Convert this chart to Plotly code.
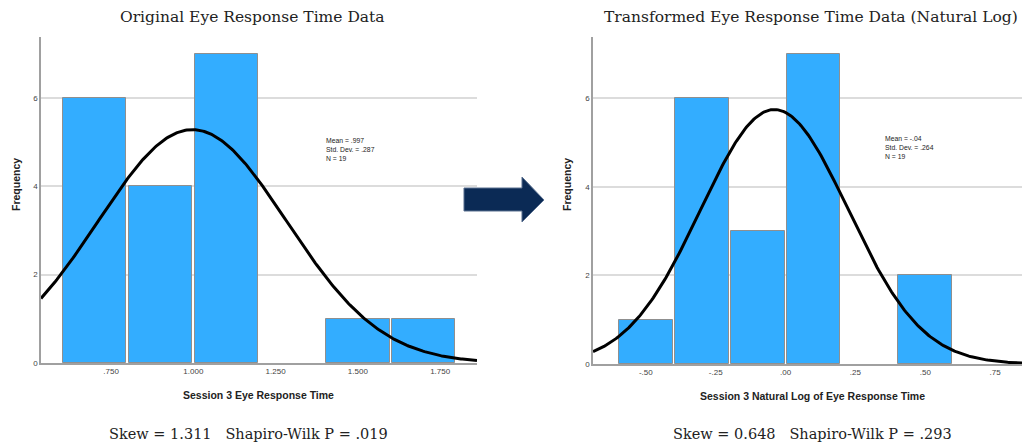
import numpy as np
import plotly.graph_objects as go

W, H = 1022, 447
YFAC = 0.9888  # vertical rendering compensation

# ---- data ----
left_bin_centers = [0.7, 0.9, 1.1, 1.3, 1.5, 1.7]
left_counts = [6, 4, 7, 0, 1, 1]
left_mean, left_sd, left_n = 0.997, 0.287, 19
left_tickvals = [0.75, 1.0, 1.25, 1.5, 1.75]
left_ticktext = [".750", "1.000", "1.250", "1.500", "1.750"]

right_bin_centers = [-0.5, -0.3, -0.1, 0.1, 0.3, 0.5]
right_counts = [1, 6, 3, 7, 0, 2]
right_mean, right_sd, right_n = -0.04, 0.264, 19
right_tickvals = [-0.5, -0.25, 0.0, 0.25, 0.5, 0.75]
right_ticktext = ["-.50", "-.25", ".00", ".25", ".50", ".75"]

y_tickvals = [0, 2, 4, 6]
y_ticktext = ["0", "2", "4", "6"]
bin_width = 0.2

left_title = "Original Eye Response Time Data"
right_title = "Transformed Eye Response Time Data (Natural Log)"
left_xlabel = "Session 3 Eye Response Time"
right_xlabel = "Session 3 Natural Log of Eye Response Time"
left_stats = "Skew = 1.311   Shapiro-Wilk P = .019"
right_stats = "Skew = 0.648   Shapiro-Wilk P = .293"

BLUE = "#33adff"
SERIF = "'DejaVu Serif', Georgia, 'Liberation Serif', serif"
SANS = "'Liberation Sans', Arial, sans-serif"


def px(x):
    return x / W


def py(y):
    return 1 - (y / YFAC) / H


left_xrange = [0.537, 1.862]
right_xrange = [-0.689, 0.846]

fig = go.Figure()


def normal_curve(mean, sd, n, xr):
    xs = np.linspace(xr[0], xr[1], 300)
    ys = n * bin_width / (sd * np.sqrt(2 * np.pi)) * np.exp(-0.5 * ((xs - mean) / sd) ** 2)
    return xs, ys


def bar_trace(centers, counts, xa, ya):
    return go.Bar(x=centers, y=counts, width=bin_width * 0.965,
                  marker=dict(color=BLUE,
                              line=dict(color="#8f8f8f", width=[1 if c > 0 else 0 for c in counts])),
                  xaxis=xa, yaxis=ya, showlegend=False, hoverinfo="x+y")


fig.add_trace(bar_trace(left_bin_centers, left_counts, "x", "y"))
xs, ys = normal_curve(left_mean, left_sd, left_n, left_xrange)
fig.add_trace(go.Scatter(x=xs, y=ys, mode="lines", line=dict(color="black", width=3),
                         xaxis="x", yaxis="y", showlegend=False))

fig.add_trace(bar_trace(right_bin_centers, right_counts, "x2", "y2"))
xs2, ys2 = normal_curve(right_mean, right_sd, right_n, right_xrange)
fig.add_trace(go.Scatter(x=xs2, y=ys2, mode="lines", line=dict(color="black", width=3),
                         xaxis="x2", yaxis="y2", showlegend=False))

axis_common = dict(showgrid=False, zeroline=False, showline=True, linecolor="#a0a0a0",
                   linewidth=1.5, ticks="", tickfont=dict(family=SANS, size=8, color="#444"))
yaxis_common = dict(showgrid=True, gridcolor="#dcdcdc", gridwidth=1.5, zeroline=False,
                    showline=True, linecolor="#a0a0a0", linewidth=1.5, ticks="",
                    tickvals=y_tickvals, ticktext=y_ticktext,
                    tickfont=dict(family=SANS, size=8, color="#444"))

fig.update_layout(
    width=W, height=H,
    margin=dict(l=0, r=0, t=0, b=0),
    paper_bgcolor="white", plot_bgcolor="white",
    bargap=0,
    xaxis=dict(domain=[px(41), px(477)], range=left_xrange, tickvals=left_tickvals,
               ticktext=left_ticktext, anchor="y", **axis_common),
    yaxis=dict(domain=[py(363), py(37)], range=[0, 7.38], anchor="x", **yaxis_common),
    xaxis2=dict(domain=[px(593), 1.0], range=right_xrange, tickvals=right_tickvals,
                ticktext=right_ticktext, anchor="y2", **axis_common),
    yaxis2=dict(domain=[py(364), py(37)], range=[0, 7.38], anchor="x2", **yaxis_common),
)

ann = []
ann.append(dict(x=px(252), y=py(17), text=left_title, showarrow=False, xref="paper", yref="paper",
                font=dict(family=SERIF, size=15.5, color="#222"), xanchor="center", yanchor="middle"))
ann.append(dict(x=px(1020), y=py(17), text=right_title, showarrow=False, xref="paper", yref="paper",
                font=dict(family=SERIF, size=15.5, color="#222"), xanchor="right", yanchor="middle"))
ann.append(dict(x=px(258), y=py(395), text="<b>" + left_xlabel + "</b>", showarrow=False,
                xref="paper", yref="paper",
                font=dict(family=SANS, size=10.5, color="#222"), xanchor="center", yanchor="middle"))
ann.append(dict(x=px(812), y=py(396), text="<b>" + right_xlabel + "</b>", showarrow=False,
                xref="paper", yref="paper",
                font=dict(family=SANS, size=10.5, color="#222"), xanchor="center", yanchor="middle"))
ann.append(dict(x=px(16), y=py(185), text="<b>Frequency</b>", showarrow=False, xref="paper",
                yref="paper", textangle=-90,
                font=dict(family=SANS, size=10.5, color="#222"), xanchor="center", yanchor="middle"))
ann.append(dict(x=px(567), y=py(185), text="<b>Frequency</b>", showarrow=False, xref="paper",
                yref="paper", textangle=-90,
                font=dict(family=SANS, size=10.5, color="#222"), xanchor="center", yanchor="middle"))
ann.append(dict(x=px(248), y=py(434), text=left_stats.replace("   ", "&nbsp;&nbsp;&nbsp;"),
                showarrow=False, xref="paper", yref="paper",
                font=dict(family=SERIF, size=14.5, color="#222"), xanchor="center", yanchor="middle"))
ann.append(dict(x=px(812), y=py(434), text=right_stats.replace("   ", "&nbsp;&nbsp;&nbsp;"),
                showarrow=False, xref="paper", yref="paper",
                font=dict(family=SERIF, size=14.5, color="#222"), xanchor="center", yanchor="middle"))
ann.append(dict(x=px(324), y=py(149), text=f"Mean = .997<br>Std. Dev. = .287<br>N = {left_n}",
                showarrow=False, xref="paper", yref="paper", align="left",
                font=dict(family=SANS, size=6.8, color="#222"), xanchor="left", yanchor="middle"))
ann.append(dict(x=px(883), y=py(147), text=f"Mean = -.04<br>Std. Dev. = .264<br>N = {right_n}",
                showarrow=False, xref="paper", yref="paper", align="left",
                font=dict(family=SANS, size=6.8, color="#222"), xanchor="left", yanchor="middle"))
fig.update_layout(annotations=ann)

# arrow shape
pts = [(464, 188), (522, 188), (522, 177), (544, 200), (522, 222), (522, 211), (464, 211)]
path = "M " + " L ".join(f"{px(a):.5f},{py(b):.5f}" for a, b in pts) + " Z"
fig.add_shape(type="path", path=path, xref="paper", yref="paper",
              fillcolor="#0b2a55", line=dict(color="#5a7090", width=1))

post = (
    "document.body.style.margin='0';document.body.style.padding='0';"
    "document.body.style.overflow='hidden';"
)
fig.write_html("out.html", config={"displayModeBar": False}, post_script=post)
